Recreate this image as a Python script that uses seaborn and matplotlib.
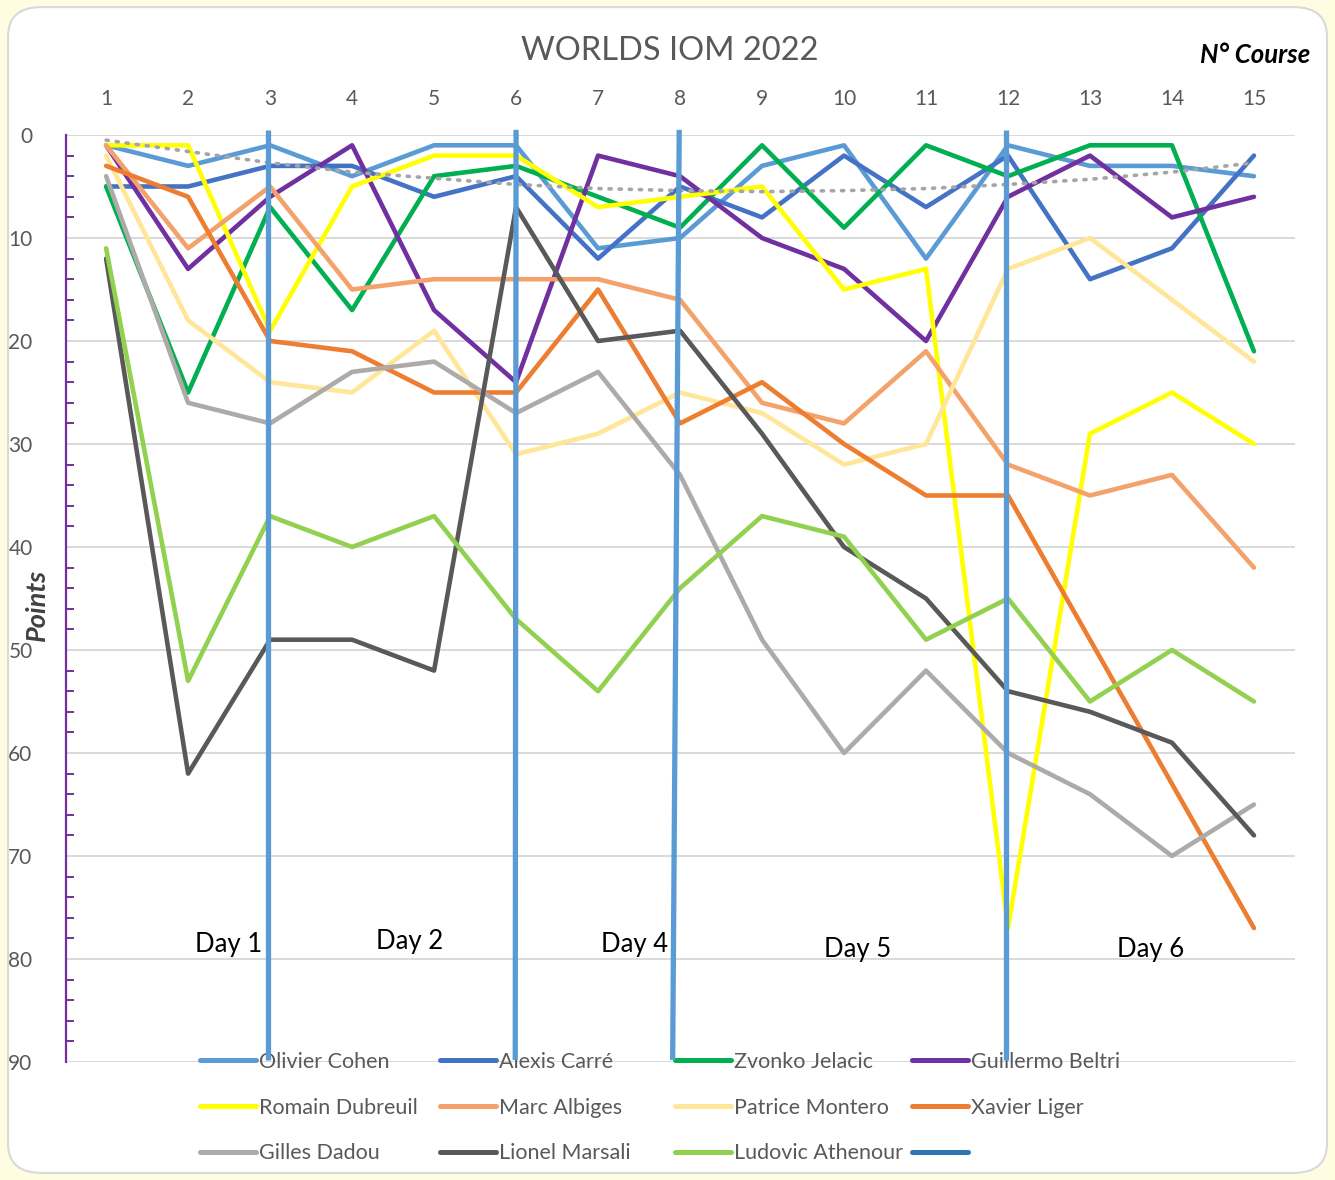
import numpy as np
import pandas as pd
import matplotlib
matplotlib.use("Agg")
import matplotlib.pyplot as plt
from matplotlib.patches import FancyBboxPatch
from matplotlib.lines import Line2D
from matplotlib.ticker import MultipleLocator
import seaborn as sns

# === DATA ===
COURSES = list(range(1, 16))
SAILORS = ['Olivier Cohen', 'Alexis Carré', 'Zvonko Jelacic', 'Guillermo Beltri',
           'Romain Dubreuil', 'Marc Albiges', 'Patrice Montero', 'Xavier Liger',
           'Gilles Dadou', 'Lionel Marsali', 'Ludovic Athenour']
olivier_cohen = [1, 3, 1, 4, 1, 1, 11, 10, 3, 1, 12, 1, 3, 3, 4]
alexis_carre = [5, 5, 3, 3, 6, 4, 12, 5, 8, 2, 7, 2, 14, 11, 2]
zvonko_jelacic = [5, 25, 7, 17, 4, 3, 6, 9, 1, 9, 1, 4, 1, 1, 21]
guillermo_beltri = [1, 13, 6, 1, 17, 24, 2, 4, 10, 13, 20, 6, 2, 8, 6]
romain_dubreuil = [1, 1, 19, 5, 2, 2, 7, 6, 5, 15, 13, 77, 29, 25, 30]
marc_albiges = [1, 11, 5, 15, 14, 14, 14, 16, 26, 28, 21, 32, 35, 33, 42]
patrice_montero = [2, 18, 24, 25, 19, 31, 29, 25, 27, 32, 30, 13, 10, 16, 22]
xavier_liger = [3, 6, 20, 21, 25, 25, 15, 28, 24, 30, 35, 35, 49, 63, 77]
gilles_dadou = [4, 26, 28, 23, 22, 27, 23, 33, 49, 60, 52, 60, 64, 70, 65]
lionel_marsali = [12, 62, 49, 49, 52, 7, 20, 19, 29, 40, 45, 54, 56, 59, 68]
ludovic_athenour = [11, 53, 37, 40, 37, 47, 54, 44, 37, 39, 49, 45, 55, 50, 55]
# courbe de tendance (pointillés)
trend = [0.5, 1.6, 2.7, 3.6, 4.2, 4.8, 5.2, 5.4, 5.5, 5.4, 5.2, 4.8, 4.3, 3.6, 2.7]

# séparations des jours (haut / bas)
DAY_BREAK_TOP = [2.98, 6.0, 7.99, 11.98]
DAY_BREAK_BOTTOM = [2.98, 5.99, 7.91, 11.98]
DAY_LABELS = ['Day 1', 'Day 2', 'Day 4', 'Day 5', 'Day 6']
DAY_X = [2.49, 4.70, 7.44, 10.16, 13.74]
DAY_Y = [78.6, 78.3, 78.6, 79.1, 79.1]

COLORS = ['#5B9BD5', '#4472C4', '#00B050', '#7030A0', '#FFFF00', '#F4A26B',
          '#FFE699', '#ED7D31', '#ADAAAA', '#595959', '#92D050']
BREAK_COLOR = '#5B9BD5'
EXTRA_COLOR = '#2E75B6'

all_points = [olivier_cohen, alexis_carre, zvonko_jelacic, guillermo_beltri,
              romain_dubreuil, marc_albiges, patrice_montero, xavier_liger,
              gilles_dadou, lionel_marsali, ludovic_athenour]
df = pd.DataFrame({
    'Course': COURSES * len(SAILORS),
    'Points': sum(all_points, []),
    'Sailor': [s for s in SAILORS for _ in COURSES],
})

# === FIGURE ===
sns.set_theme(style='white')
plt.rcParams['font.family'] = ['Lato', 'DejaVu Sans']
TXT = '#595959'

fig = plt.figure(figsize=(13.35, 11.8), dpi=100)
fig.patch.set_facecolor('#FFFDE1')
fig.patches.append(FancyBboxPatch((0.006, 0.006), 0.988, 0.988,
                                  boxstyle='round,pad=0,rounding_size=0.025',
                                  transform=fig.transFigure, facecolor='white',
                                  edgecolor='#D9D9D9', linewidth=1.5, zorder=-5))

ax = fig.add_axes([0.0494, 0.100, 0.9206, 0.7856])
ax.set_facecolor('none')

sns.lineplot(data=df, x='Course', y='Points', hue='Sailor', hue_order=SAILORS,
             palette=COLORS, linewidth=3.3, sort=False, legend=False, ax=ax,
             zorder=3)
ax.plot(COURSES, trend, linestyle=(0, (0.6, 2.2)), color='#A5A5A5', lw=2.6,
        dash_capstyle='round', zorder=3.5)

for xt, xb in zip(DAY_BREAK_TOP, DAY_BREAK_BOTTOM):
    ax.plot([xt, xb], [-0.5, 89.8], color=BREAK_COLOR, lw=3.8, zorder=4,
            solid_capstyle='butt', clip_on=False)

for lab, x, y in zip(DAY_LABELS, DAY_X, DAY_Y):
    ax.text(x, y, lab, fontsize=18.5, color='black', ha='center', va='center',
            zorder=5)

ax.set_xlim(0.51, 15.5)
ax.set_ylim(90, 0)
ax.xaxis.set_ticks_position('top')
ax.xaxis.set_label_position('top')
ax.set_xticks(COURSES)
ax.set_yticks(range(0, 91, 10))
ax.yaxis.set_minor_locator(MultipleLocator(2))
ax.tick_params(axis='x', length=0, pad=19, labelsize=15, labelcolor=TXT)
ax.tick_params(axis='y', which='major', direction='in', length=6, width=1.4,
               color='#7030A0', pad=24, labelsize=15, labelcolor=TXT)
ax.tick_params(axis='y', which='minor', direction='in', length=6, width=1.4,
               color='#7030A0', left=True)
ax.set_xlabel('')
ax.set_ylabel('')
ax.grid(axis='y', which='major', color='#D9D9D9', lw=1.4, zorder=0)
for s in ['top', 'right', 'bottom']:
    ax.spines[s].set_visible(False)
ax.spines['left'].set_color('#7030A0')
ax.spines['left'].set_linewidth(1.6)

# legende : 4 colonnes de 3
labels = SAILORS + ['']
colors = COLORS + [EXTRA_COLOR]
col_x = [0.1498, 0.3296, 0.5056, 0.6831]
for c in range(4):
    idx = [c, c + 4, c + 8]
    hs = [Line2D([], [], color=colors[i], lw=3.6, solid_capstyle='round') for i in idx]
    leg = ax.legend(hs, [labels[i] for i in idx], loc='upper left',
                    bbox_to_anchor=(col_x[c], 0.1085), bbox_transform=fig.transFigure,
                    frameon=False, fontsize=15.5, handlelength=2.6, handletextpad=0.15,
                    labelspacing=1.19, borderpad=0, borderaxespad=0, labelcolor=TXT)
    leg.set_zorder(2)
    ax.add_artist(leg)
ax.legend_ = None

fig.text(0.5015, 0.957, 'WORLDS IOM 2022', fontsize=23.5, color=TXT,
         ha='center', va='center')
fig.text(0.940, 0.953, 'N° Course', fontsize=18.5, fontweight='bold',
         fontstyle='italic', color='black', ha='center', va='center')
fig.text(0.028, 0.487, 'Points', fontsize=19.5, fontweight='bold',
         fontstyle='italic', color='#404040', ha='center', va='center',
         rotation=90)

fig.savefig('out.png', dpi=100, facecolor=fig.get_facecolor())
